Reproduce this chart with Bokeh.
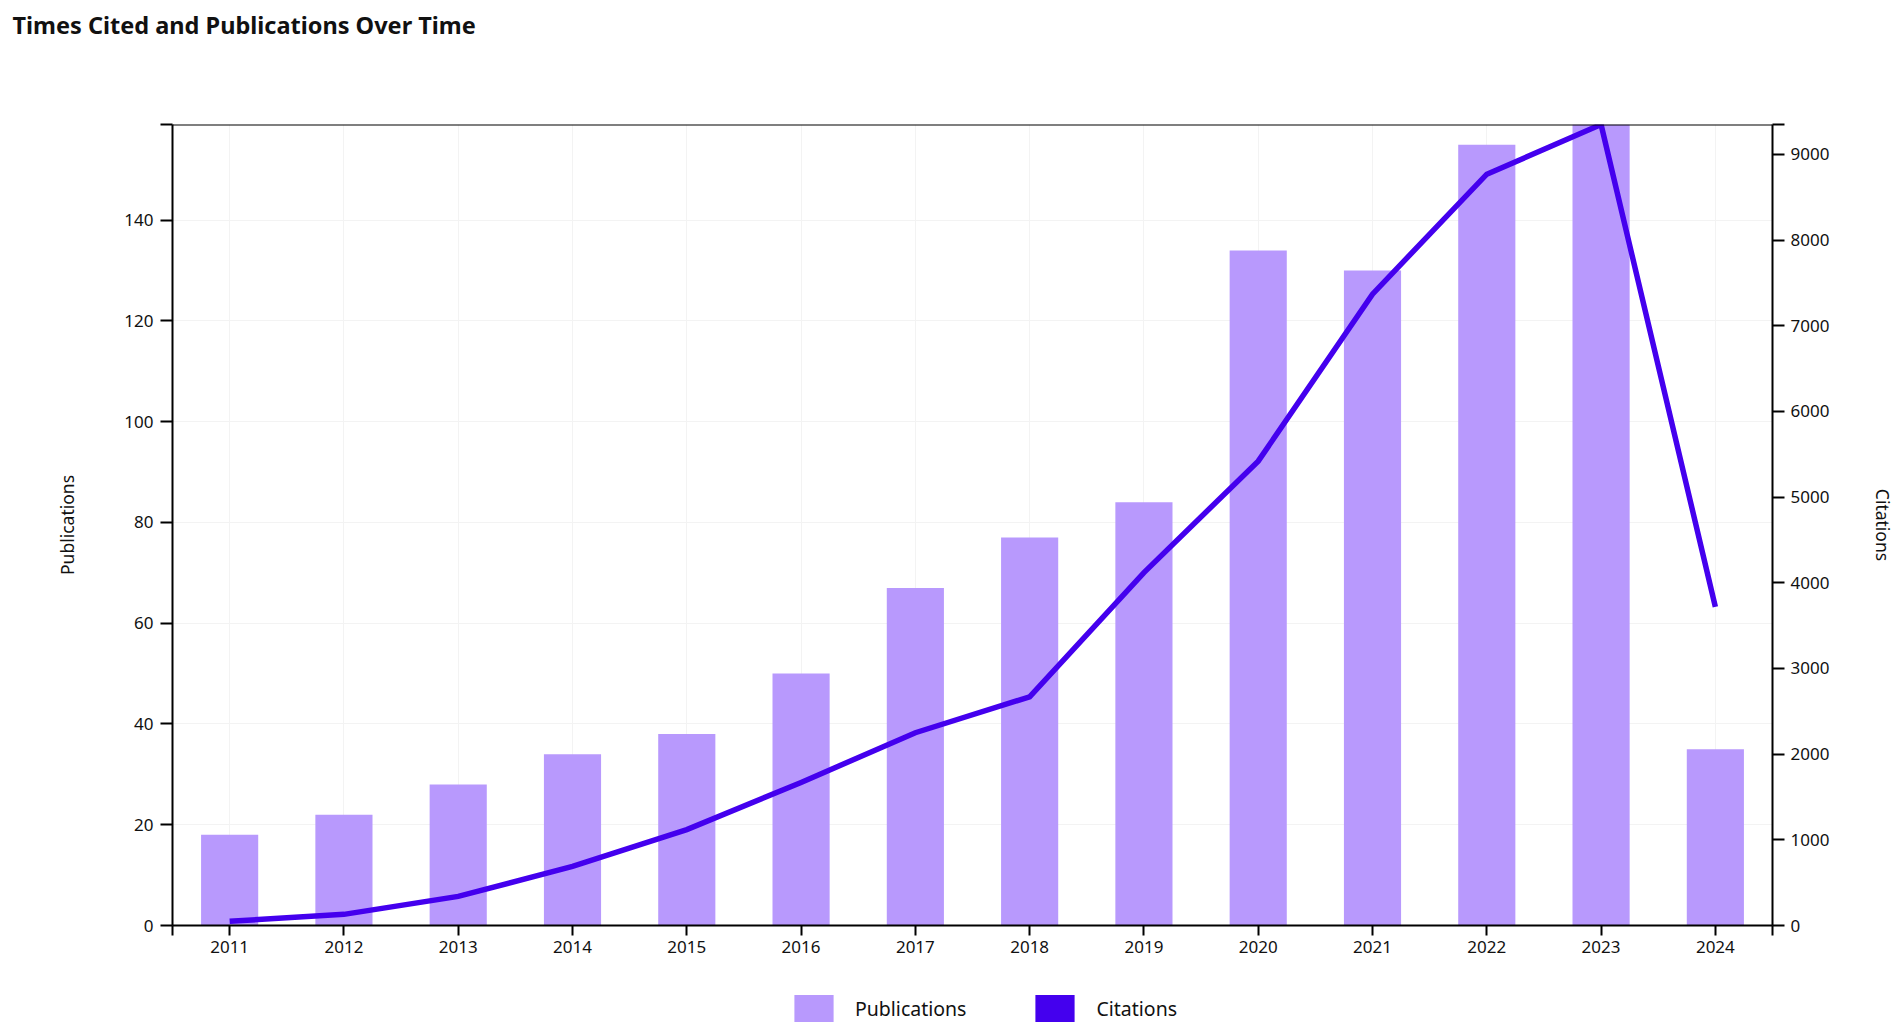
from bokeh.plotting import figure
from bokeh.layouts import column
from bokeh.models import (Range1d, LinearAxis, FixedTicker, Legend, LegendItem,
                          Span, ColumnDataSource, Label)
from bokeh.embed import file_html
from bokeh.resources import INLINE

# ---- data ----
years = [2011, 2012, 2013, 2014, 2015, 2016, 2017, 2018, 2019, 2020, 2021, 2022, 2023, 2024]
publications = [18, 22, 28, 34, 38, 50, 67, 77, 84, 134, 130, 155, 159, 35]
citations = [50, 130, 340, 690, 1120, 1670, 2250, 2670, 4120, 5420, 7370, 8770, 9350, 3720]
pub_ticks = [0, 20, 40, 60, 80, 100, 120, 140]
cit_ticks = [0, 1000, 2000, 3000, 4000, 5000, 6000, 7000, 8000, 9000]
series_names = ["Publications", "Citations"]
chart_title = "Times Cited and Publications Over Time"

BAR_COLOR = "#b899fd"
LINE_COLOR = "#4400ee"
FONT = "Noto Sans"
W = 1898


def strip_figure(height):
    f = figure(width=W, height=height, output_backend="svg", toolbar_location=None,
               x_range=Range1d(0, 1), y_range=Range1d(0, 1),
               x_axis_location=None, y_axis_location=None,
               min_border_left=0, min_border_right=0, min_border_top=0,
               min_border_bottom=0)
    f.frame_align = False
    f.outline_line_color = None
    f.grid.visible = False
    f.title.visible = False
    return f


pub_max = max(publications)
cit_max = max(citations)

# ---- title strip ----
tf = strip_figure(50)
tf.add_layout(Label(x=12, y=26, x_units="screen", y_units="screen", text=chart_title,
                    text_font=FONT, text_font_size="23.5px", text_font_style="bold",
                    text_color="#111111", text_baseline="middle", text_align="left"))

# ---- main chart ----
p = figure(width=W, height=915, output_backend="svg", toolbar_location=None,
           x_range=Range1d(years[0] - 0.5, years[-1] + 0.5),
           y_range=Range1d(0, pub_max),
           min_border_left=172, min_border_right=125, min_border_top=74,
           min_border_bottom=40)
p.frame_align = False
p.title.visible = False
p.outline_line_color = None
p.background_fill_color = "white"
p.border_fill_color = "white"

p.extra_y_ranges = {"cit": Range1d(0, cit_max)}

src = ColumnDataSource(dict(year=years, pub=publications, cit=citations))
bars = p.vbar(x="year", top="pub", width=0.5, source=src, fill_color=BAR_COLOR,
              line_color=None)
line = p.line(x="year", y="cit", source=src, y_range_name="cit",
              line_color=LINE_COLOR, line_width=5.5, line_join="miter")


def style_axis(ax, tick_out):
    ax.axis_line_color = "black"
    ax.axis_line_width = 2
    ax.major_tick_line_color = "black"
    ax.major_tick_line_width = 2
    ax.major_tick_in = 0
    ax.major_tick_out = tick_out
    ax.minor_tick_line_color = "black"
    ax.minor_tick_line_width = 2
    ax.minor_tick_in = 0
    ax.minor_tick_out = tick_out
    ax.major_label_text_font = FONT
    ax.major_label_text_font_size = "17px"
    ax.major_label_text_color = "#111111"
    ax.axis_label_text_font = FONT
    ax.axis_label_text_font_size = "17.5px"
    ax.axis_label_text_font_style = "normal"
    ax.axis_label_text_color = "#111111"


xax = p.xaxis[0]
xax.ticker = FixedTicker(ticks=years, minor_ticks=[years[0] - 0.5, years[-1] + 0.5])
style_axis(xax, 10)
xax.major_label_standoff = 5

yax = p.yaxis[0]
yax.ticker = FixedTicker(ticks=pub_ticks, minor_ticks=[pub_max])
style_axis(yax, 12)
yax.axis_label = series_names[0]
yax.major_label_standoff = 7
yax.axis_label_standoff = 42

rax = LinearAxis(y_range_name="cit", axis_label=series_names[1],
                 ticker=FixedTicker(ticks=cit_ticks, minor_ticks=[cit_max]))
style_axis(rax, 12)
rax.major_label_standoff = 6
rax.axis_label_standoff = 39
p.add_layout(rax, "right")

# top border line
p.add_layout(Span(location=pub_max, dimension="width", line_color="black", line_width=2))

p.xgrid.grid_line_color = "#f3f3f3"
p.ygrid.grid_line_color = "#f3f3f3"

# ---- legend strip ----
lg = strip_figure(62)
# swatch renderers share the data but lie outside this strip's range (only the
# legend glyphs are visible)
sw_pub = lg.vbar(x="year", top="pub", width=0.5, source=src, fill_color=BAR_COLOR,
                 line_color=None)
sw_cit = lg.vbar(x="year", top="cit", width=0.5, source=src, fill_color=LINE_COLOR,
                 line_color=None)

legend = Legend(items=[LegendItem(label=series_names[0], renderers=[sw_pub]),
                       LegendItem(label=series_names[1], renderers=[sw_cit])],
                orientation="horizontal", location=(789, 2),
                glyph_width=49, glyph_height=34, label_standoff=17, spacing=64,
                padding=0, margin=0, border_line_color=None,
                background_fill_alpha=0,
                label_text_font=FONT, label_text_font_size="19.5px",
                label_text_color="#111111")
lg.add_layout(legend, "center")

layout = column(tf, p, lg, spacing=0)
open("out.html", "w").write(file_html(layout, INLINE))
